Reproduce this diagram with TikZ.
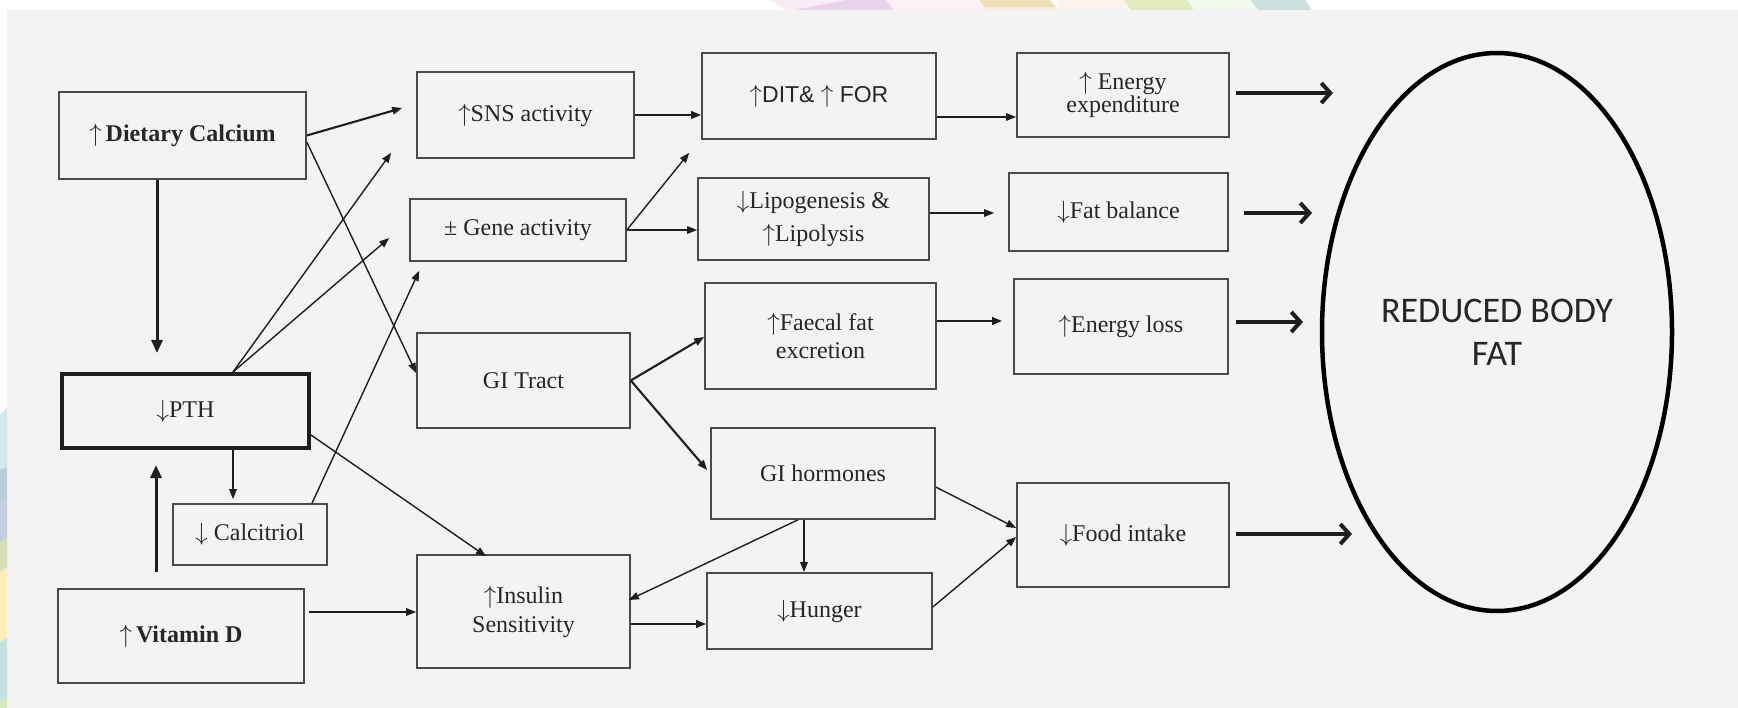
\documentclass[tikz,border=0pt]{standalone}
\usepackage{fontspec}
\setmainfont{Liberation Serif}
\newfontfamily\sansA{Liberation Sans}
\newfontfamily\calib{Carlito}
\usetikzlibrary{arrows.meta,shapes.geometric}
\definecolor{boxc}{HTML}{4A4A4A}
\definecolor{txtc}{HTML}{262626}
\definecolor{linec}{HTML}{1E1E1E}
\definecolor{bgc}{HTML}{F3F3F3}
\begin{document}
\begin{tikzpicture}[x=1pt,y=-1pt,
  box/.style={draw=boxc, line width=1.6pt, rectangle, inner sep=0pt, align=center,
    text=txtc, font=\fontsize{24}{27}\selectfont},
  thinarr/.style={draw=linec, line width=1.4pt, -{Triangle[length=10pt,width=7.5pt]}},
  midarr/.style={thinarr, line width=2.1pt},
  heavyarr/.style={draw=linec, line width=3pt, -{Triangle[length=13pt,width=11pt]}},
  bigarr/.style={draw=linec, line width=4pt, -{Straight Barb[length=9pt,width=20pt]}}
]
\useasboundingbox (0,0) rectangle (1738,708);
% background
\fill[white] (0,0) rectangle (1738,708);
\fill[bgc] (7,10) rectangle (1738,708);
% top decoration
\fill[fill={rgb,255:red,248;green,236;blue,245}] (770,0) -- (900,0) -- (905,10) -- (785,10) -- cycle;
\fill[fill={rgb,255:red,233;green,211;blue,234}] (847,0) -- (886,0) -- (894,10) -- (794,10) -- cycle;
\fill[fill={rgb,255:red,253;green,240;blue,246}] (886,0) -- (978,0) -- (986,10) -- (894,10) -- cycle;
\fill[fill={rgb,255:red,240;green,224;blue,184}] (979,0) -- (1050,0) -- (1056,7) -- (984,7) -- cycle;
\fill[fill={rgb,255:red,246;green,238;blue,214}] (984,7) -- (1056,7) -- (1059,10) -- (986,10) -- cycle;
\fill[fill={rgb,255:red,252;green,243;blue,238}] (1057,0) -- (1124,0) -- (1131,10) -- (1060,10) -- cycle;
\fill[fill={rgb,255:red,226;green,235;blue,190}] (1124,0) -- (1187,0) -- (1194,10) -- (1131,10) -- cycle;
\fill[fill={rgb,255:red,242;green,248;blue,236}] (1187,0) -- (1251,0) -- (1258,10) -- (1194,10) -- cycle;
\fill[fill={rgb,255:red,204;green,223;blue,223}] (1251,0) -- (1305,0) -- (1312,10) -- (1258,10) -- cycle;
% left decoration
\fill[fill={rgb,255:red,211;green,232;blue,238}] (0,415) -- (7,408) -- (7,467) -- (0,470) -- cycle;
\fill[fill={rgb,255:red,185;green,205;blue,214}] (0,470) -- (7,467) -- (7,498) -- (0,502) -- cycle;
\fill[fill={rgb,255:red,196;green,204;blue,224}] (0,502) -- (7,498) -- (7,538) -- (0,542) -- cycle;
\fill[fill={rgb,255:red,216;green,223;blue,180}] (0,542) -- (7,538) -- (7,568) -- (0,572) -- cycle;
\fill[fill={rgb,255:red,251;green,239;blue,181}] (0,572) -- (7,568) -- (7,638) -- (0,642) -- cycle;
\fill[fill={rgb,255:red,195;green,226;blue,223}] (0,642) -- (7,638) -- (7,698) -- (0,702) -- cycle;
\fill[fill={rgb,255:red,216;green,232;blue,184}] (0,702) -- (7,698) -- (7,708) -- (0,708) -- cycle;

% boxes
\node[box, minimum width=247pt, minimum height=87pt] (cal) at (182.5,135.5) {$\uparrow$\,\textbf{Dietary Calcium}};
\node[box, line width=4pt, draw=linec, minimum width=247pt, minimum height=74pt] (pth) at (185.5,411) {$\downarrow$PTH};
\node[box, minimum width=154pt, minimum height=61pt] (ctr) at (250,534.5) {$\downarrow$ Calcitriol};
\node[box, minimum width=246pt, minimum height=94pt] (vitd) at (181,636) {$\uparrow$\,\textbf{Vitamin D}};
\node[box, minimum width=217pt, minimum height=86pt] (sns) at (525.5,115) {$\uparrow$SNS activity};
\node[box, minimum width=216pt, minimum height=62pt] (gene) at (518,230) {± Gene activity};
\node[box, minimum width=213pt, minimum height=95pt] (gi) at (523.5,380.5) {GI Tract};
\node[box, minimum width=213pt, minimum height=113pt, font=\fontsize{24}{29}\selectfont] (ins) at (523.5,611.5) {$\uparrow$Insulin\\Sensitivity};
\node[box, minimum width=234pt, minimum height=86pt, font=\sansA\fontsize{23}{27}\selectfont] (dit) at (819,96) {$\uparrow$DIT\& $\uparrow$ FOR};
\node[box, minimum width=231pt, minimum height=82pt, font=\fontsize{24}{33}\selectfont] (lip) at (813.5,219) {$\downarrow$Lipogenesis \&\\$\uparrow$Lipolysis};
\node[box, minimum width=231pt, minimum height=106pt, font=\fontsize{24}{28}\selectfont] (fae) at (820.5,336) {$\uparrow$Faecal fat\\excretion};
\node[box, minimum width=224pt, minimum height=91pt] (gih) at (823,473.5) {GI hormones};
\node[box, minimum width=225pt, minimum height=76pt] (hun) at (819.5,611) {$\downarrow$Hunger};
\node[box, minimum width=212pt, minimum height=84pt, font=\fontsize{24}{23}\selectfont] (ee) at (1123,95) {$\uparrow$ Energy\\expenditure};
\node[box, minimum width=219pt, minimum height=78pt] (fat) at (1118.5,212) {$\downarrow$Fat balance};
\node[box, minimum width=214pt, minimum height=95pt] (el) at (1121,326.5) {$\uparrow$Energy loss};
\node[box, minimum width=212pt, minimum height=104pt] (food) at (1123,535) {$\downarrow$Food intake};

\node[ellipse, draw=black, line width=4.5pt, minimum width=350pt, minimum height=558pt, inner sep=0pt,
  align=center, text=txtc, font=\calib\fontsize{36}{43}\selectfont] (ell) at (1497,332) {REDUCED BODY\\FAT};

\coordinate (e1) at (1333,93);
\coordinate (e2) at (1312,213);
\coordinate (e3) at (1303,322);
\coordinate (e4) at (1352,534);

% connectors
\draw[midarr] (cal.east) -- ([xshift=-14pt,yshift=7pt]sns.west);
\draw[thinarr] ([yshift=-6.5pt]cal.east) -- ([yshift=7.5pt]gi.west);
\draw[heavyarr] ([xshift=-25.5pt]cal.south) -- ([xshift=-28.5pt,yshift=19pt]pth.north);
\draw[thinarr] ([xshift=47.5pt]pth.north) -- ([xshift=-25pt,yshift=6pt]sns.south west);
\draw[thinarr] ([xshift=47.5pt]pth.north) -- ([xshift=-20pt,yshift=-8pt]gene.west);
\draw[thinarr] ([xshift=62pt]ctr.north) -- ([xshift=10pt,yshift=-9pt]gene.south west);
\draw[thinarr] ([yshift=-24pt]pth.east) -- ([xshift=-37.5pt,yshift=-2pt]ins.north);
\draw[thinarr] ([xshift=4pt,yshift=24pt]vitd.east) -- ([yshift=-0.5pt]ins.west);
\draw[heavyarr] ([xshift=-25pt,yshift=16pt]vitd.north) -- ([xshift=-29.5pt,yshift=-15pt]pth.south);
\draw[thinarr] ([xshift=47.5pt]pth.south) -- ([xshift=-17pt,yshift=4pt]ctr.north);
\draw[midarr] (sns.east) -- ([yshift=-19pt]dit.west);
\draw[thinarr] (gene.east) -- ([xshift=-12pt,yshift=-13pt]dit.south west);
\draw[thinarr] (gene.east) -- ([yshift=-11pt]lip.west);
\draw[midarr] (gi.east) -- ([yshift=-1pt]fae.west);
\draw[midarr] (gi.east) -- ([xshift=-3pt,yshift=3.5pt]gih.west);
\draw[thinarr] ([yshift=-21pt]dit.east) -- ([yshift=-22pt]ee.west);
\draw[thinarr] ([yshift=6pt]lip.east) -- ([xshift=-14pt,yshift=-1pt]fat.west);
\draw[midarr] ([yshift=15pt]fae.east) -- ([xshift=-11pt,yshift=5.5pt]el.west);
\draw[thinarr] ([xshift=-25pt]gih.south) -- ([xshift=-2pt,yshift=11.5pt]ins.east);
\draw[thinarr] ([xshift=-19pt]gih.south) -- ([xshift=-15.5pt]hun.north);
\draw[midarr] ([yshift=-12.5pt]ins.east) -- ([yshift=-13pt]hun.west);
\draw[thinarr] ([yshift=-13.5pt]gih.east) -- ([yshift=7pt]food.west);
\draw[thinarr] ([yshift=4pt]hun.east) -- ([yshift=-2pt]food.west);
\draw[bigarr] ([xshift=6pt,yshift=2pt]ee.east) -- (e1);
\draw[bigarr] ([xshift=15pt,yshift=-1pt]fat.east) -- (e2);
\draw[bigarr] ([xshift=7pt,yshift=4.5pt]el.east) -- (e3);
\draw[bigarr] ([xshift=6pt,yshift=1pt]food.east) -- (e4);
\end{tikzpicture}
\end{document}
